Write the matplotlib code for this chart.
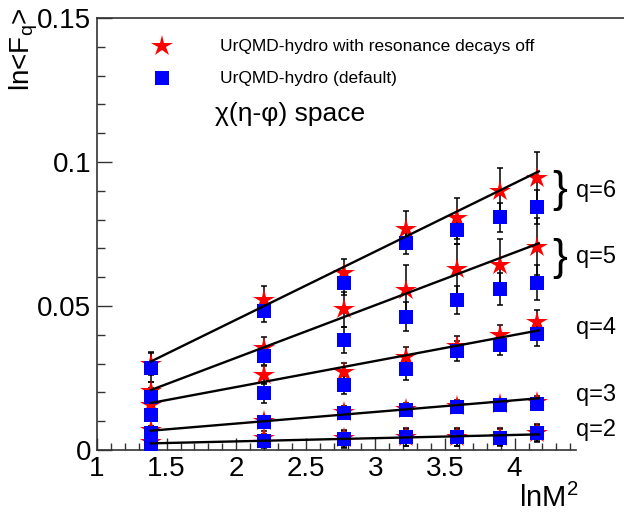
import matplotlib
matplotlib.use("Agg")
import matplotlib.pyplot as plt
from matplotlib.ticker import FixedLocator, NullFormatter
import numpy as np

plt.rcParams['font.family'] = ['Liberation Sans', 'DejaVu Sans']
plt.rcParams['mathtext.fontset'] = 'custom'
plt.rcParams['mathtext.rm'] = 'Liberation Sans'
plt.rcParams['mathtext.it'] = 'Liberation Sans'

# ln(M^2) bins
lnM2 = [1.386, 2.197, 2.773, 3.219, 3.584, 3.892, 4.159]
orders = [2, 3, 4, 5, 6]

# ln<F_q>, UrQMD-hydro with resonance decays switched off
res_off = {
    2: [0.0027, 0.0040, 0.0040, 0.0045, 0.0045, 0.0046, 0.0060],
    3: [0.0070, 0.0100, 0.0133, 0.0142, 0.0152, 0.0158, 0.0165],
    4: [0.0155, 0.0260, 0.0272, 0.0324, 0.0362, 0.0399, 0.0446],
    5: [0.0205, 0.0353, 0.0488, 0.0556, 0.0627, 0.0642, 0.0706],
    6: [0.0300, 0.0521, 0.0613, 0.0766, 0.0804, 0.0900, 0.0943],
}
res_off_err = {
    2: [0.0020, 0.0025, 0.0030, 0.0030, 0.0030, 0.0030, 0.0030],
    3: [0.0015, 0.0018, 0.0020, 0.0020, 0.0020, 0.0020, 0.0022],
    4: [0.0020, 0.0030, 0.0030, 0.0035, 0.0035, 0.0035, 0.0040],
    5: [0.0030, 0.0040, 0.0060, 0.0085, 0.0090, 0.0090, 0.0100],
    6: [0.0040, 0.0050, 0.0050, 0.0065, 0.0070, 0.0080, 0.0093],
}

# ln<F_q>, UrQMD-hydro default
default = {
    2: [0.0020, 0.0032, 0.0037, 0.0044, 0.0044, 0.0043, 0.0058],
    3: [0.0058, 0.0098, 0.0130, 0.0139, 0.0150, 0.0156, 0.0160],
    4: [0.0122, 0.0199, 0.0226, 0.0280, 0.0344, 0.0365, 0.0402],
    5: [0.0185, 0.0326, 0.0382, 0.0463, 0.0521, 0.0559, 0.0581],
    6: [0.0286, 0.0483, 0.0579, 0.0720, 0.0764, 0.0808, 0.0843],
}
default_err = {
    2: [0.0020, 0.0025, 0.0030, 0.0030, 0.0030, 0.0030, 0.0030],
    3: [0.0015, 0.0018, 0.0020, 0.0020, 0.0020, 0.0020, 0.0022],
    4: [0.0020, 0.0035, 0.0030, 0.0037, 0.0035, 0.0035, 0.0040],
    5: [0.0030, 0.0030, 0.0045, 0.0050, 0.0050, 0.0056, 0.0060],
    6: [0.0050, 0.0040, 0.0040, 0.0040, 0.0050, 0.0050, 0.0060],
}

# linear fits  ln<F_q> = a + b * lnM^2
fit_a = {2: 0.00075, 3: 0.0011, 4: 0.00376, 5: -0.00454, 6: -0.00213}
fit_b = {2: 0.00112, 3: 0.00404, 4: 0.00905, 5: 0.01828, 6: 0.02369}

x_major = [1, 1.5, 2, 2.5, 3, 3.5, 4]
x_labels = ['1', '1.5', '2', '2.5', '3', '3.5', '4']
x_minor = [round(1 + 0.1 * i, 2) for i in range(35)]
y_major = [0, 0.05, 0.10, 0.15]
y_labels = ['0', '0.05', '0.1', '0.15']
y_minor = [round(0.01 * i, 2) for i in range(16)]

W, H = 624, 526
fig = plt.figure(figsize=(W / 100, H / 100), dpi=100)
ax = fig.add_axes([97 / W, 76 / H, 527 / W, 432 / H])
ax.set_xlim(1, 1 + 527 / 139.2)
ax.set_ylim(0, 0.15)

x = np.array(lnM2)
for q in orders:
    ax.errorbar(x, res_off[q], yerr=res_off_err[q], fmt='none', ecolor='black',
                elinewidth=1.1, capsize=2.5, capthick=1.1, zorder=2)
    ax.errorbar(x, default[q], yerr=default_err[q], fmt='none', ecolor='black',
                elinewidth=1.1, capsize=2.5, capthick=1.1, zorder=2)
for q in orders:
    ax.plot(x, res_off[q], linestyle='none', marker='*', color='red',
            markersize=16, markeredgewidth=0, zorder=3)
for q in orders:
    ax.plot(x, default[q], linestyle='none', marker='s', color='blue',
            markersize=10, markeredgewidth=0, zorder=4)
for q in orders:
    xf = np.array([x[0], x[-1] + 0.015])
    ax.plot(xf, fit_a[q] + fit_b[q] * xf, color='black', lw=1.7, zorder=5)

# frame
ax.spines['right'].set_visible(False)
for s in ('left', 'bottom', 'top'):
    ax.spines[s].set_color('#333333')
    ax.spines[s].set_linewidth(1.2)
ax.spines['bottom'].set_bounds(1, 4.44)

ax.xaxis.set_major_locator(FixedLocator(x_major))
ax.xaxis.set_minor_locator(FixedLocator(x_minor))
ax.set_xticklabels(x_labels)
ax.yaxis.set_major_locator(FixedLocator(y_major))
ax.yaxis.set_minor_locator(FixedLocator(y_minor))
ax.set_yticklabels(y_labels)
ax.yaxis.set_minor_formatter(NullFormatter())

ax.tick_params(axis='both', which='both', direction='in', colors='#333333',
               labelcolor='black', labelsize=20, top=False, right=False)
ax.tick_params(axis='x', which='major', length=9, width=1.0, pad=4)
ax.tick_params(axis='x', which='minor', length=5, width=1.0)
ax.tick_params(axis='y', which='major', length=11, width=1.0, pad=4)
ax.tick_params(axis='y', which='minor', length=6, width=1.0)

# axis titles
fig.text(24 / W, 1 - 8 / H, r'ln<F$_{\mathrm{q}}$>', rotation=90, fontsize=20,
         ha='center', va='top')
fig.text(578 / W, 1 - 498 / H, r'lnM$^{2}$', fontsize=21, ha='right',
         va='center')

# legend
leg_ax = fig.add_axes([0, 0, 1, 1], facecolor='none')
leg_ax.set_xlim(0, W)
leg_ax.set_ylim(H, 0)
leg_ax.axis('off')
leg_ax.plot([162], [46], marker='*', color='red', markersize=16, markeredgewidth=0)
leg_ax.plot([162], [78], marker='s', color='blue', markersize=10, markeredgewidth=0)
fig.text(220 / W, 1 - 46 / H, 'UrQMD-hydro with resonance decays off',
         fontsize=12.5, ha='left', va='center')
fig.text(220 / W, 1 - 78 / H, 'UrQMD-hydro (default)', fontsize=12.5,
         ha='left', va='center')
fig.text(215 / W, 1 - 114 / H, 'χ(η-φ) space', fontsize=19, ha='left',
         va='center')

# order labels with braces
for q, ypx in [(6, 191), (5, 257), (4, 328), (3, 395), (2, 430)]:
    fig.text(596 / W, 1 - ypx / H, f'q={q}', fontsize=17, ha='center',
             va='center')
for ypx in [191, 259]:
    fig.text(560 / W, 1 - ypx / H, '}', fontsize=32, ha='center', va='center',
             fontweight='light')

fig.savefig('out.png', dpi=100)
